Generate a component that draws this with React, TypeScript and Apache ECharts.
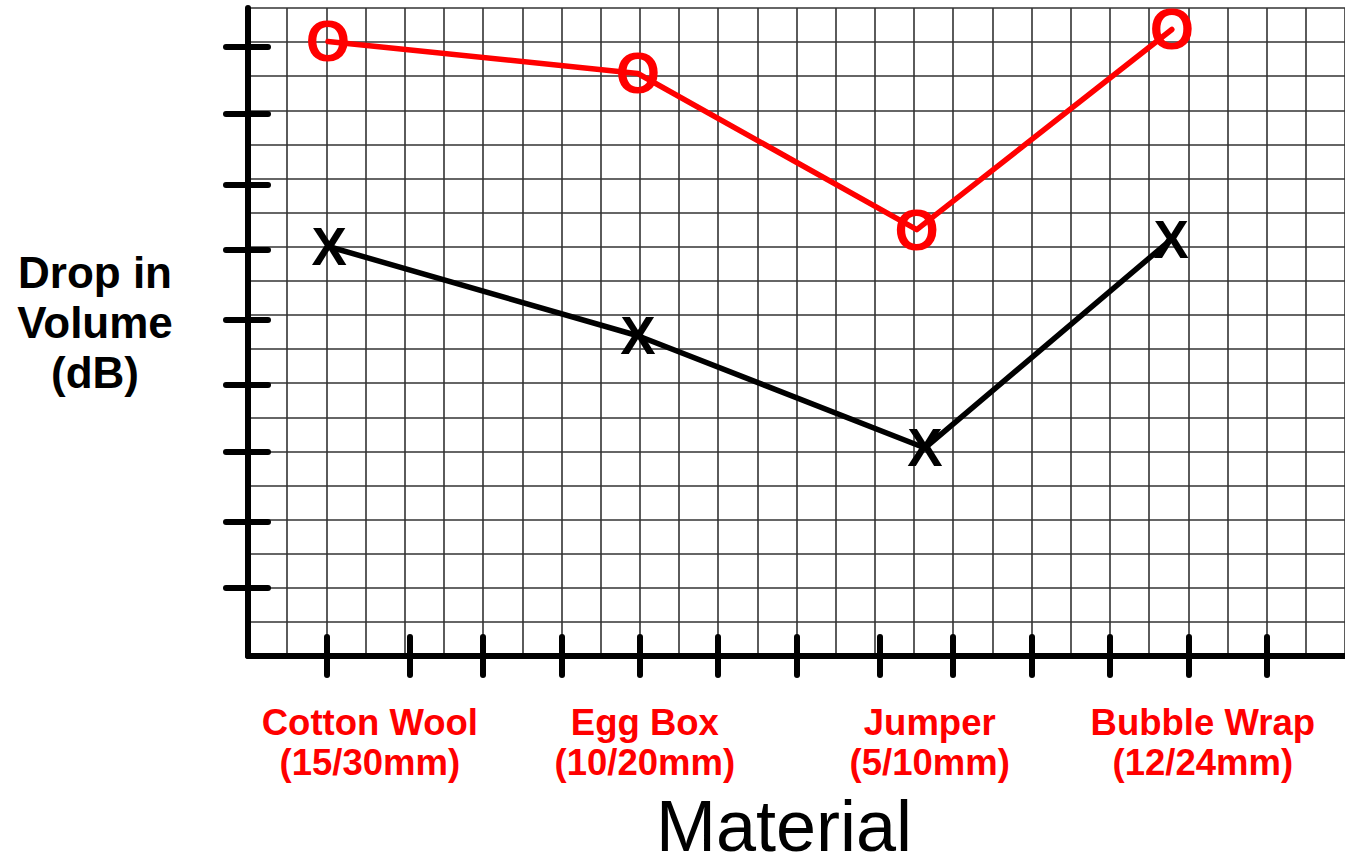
import React, { useEffect, useRef } from "react";
import * as echarts from "echarts";

// Category labels and where they sit on the x scale (grid units)
const categories = ["Cotton Wool\n(15/30mm)", "Egg Box\n(10/20mm)", "Jumper\n(5/10mm)", "Bubble Wrap\n(12/24mm)"];
const labelX = [3.11, 10.13, 17.4, 24.37];

// Red "O" series
const redX = [2.04, 9.95, 17.07, 23.58];
const redY = [18.02, 17.08, 12.5, 18.37];

// Black "X" series
const blackX = [2.07, 9.95, 17.28, 23.56];
const blackY = [12.0, 9.39, 6.1, 12.21];

// Hand-drawn tick positions
const xTicks = [2, 4.13, 6, 8, 10, 12, 14, 16.13, 18, 20, 22, 24, 26];
const yTicks = [1.99, 3.93, 5.99, 7.95, 9.86, 11.92, 13.82, 15.9, 17.87];

const xTitle = "Material";
const yTitle = "Drop in\nVolume\n(dB)";

const X_MAX = 28;
const Y_MAX = 19;
const FONT = "'Liberation Sans', Arial, Helvetica, sans-serif";

export default function App() {
  const ref = useRef<HTMLDivElement>(null);

  useEffect(() => {
    document.body.style.margin = "0";
    if (!ref.current) return;
    const chart = echarts.init(ref.current, null, { renderer: "svg" });

    const thick = { show: true, onZero: false, lineStyle: { color: "#000", width: 6, cap: "round" as const } };

    const baseX = { type: "value" as const, min: 0, max: X_MAX, interval: 1, position: "bottom" as const, gridIndex: 0 };
    const baseY = { type: "value" as const, min: 0, max: Y_MAX, interval: 1, position: "left" as const, gridIndex: 0 };

    const markerLabel = (text: string, color: string, size: number) => ({
      show: true,
      position: "inside",
      formatter: text,
      color,
      opacity: 1,
      fontFamily: FONT,
      fontWeight: "bold",
      fontSize: size,
      lineHeight: 42,
    });

    const option: any = {
      animation: false,
      backgroundColor: "#fff",
      grid: { left: 248, top: 8, right: 0, bottom: 202, containLabel: false, outerBoundsMode: "none" },
      graphic: [
        {
          type: "text",
          x: 95,
          y: 322,
          style: {
            text: yTitle,
            fill: "#000",
            font: `bold 44px ${FONT}`,
            lineHeight: 50,
            align: "center",
            verticalAlign: "middle",
          },
        },
      ],
      xAxis: [
        {
          ...baseX,
          axisLine: { show: false },
          axisTick: { show: false },
          axisLabel: { show: false },
          splitLine: { show: true, lineStyle: { color: "#333", width: 1.6 } },
        },
        {
          ...baseX,
          axisLine: thick,
          axisTick: { show: true, inside: true, length: 19, customValues: xTicks, lineStyle: { color: "#000", width: 6, cap: "round" } },
          axisLabel: { show: false },
          splitLine: { show: false },
        },
        {
          ...baseX,
          axisLine: { show: false },
          axisTick: { show: true, inside: false, length: 19, customValues: xTicks, lineStyle: { color: "#000", width: 6, cap: "round" } },
          axisLabel: {
            show: true,
            customValues: labelX,
            margin: 46,
            color: "#ff0000",
            fontFamily: FONT,
            fontWeight: "bold",
            fontSize: 36.5,
            lineHeight: 40,
            align: "center",
            formatter: (v: number) => {
              let best = 0;
              labelX.forEach((lx, i) => {
                if (Math.abs(lx - v) < Math.abs(labelX[best] - v)) best = i;
              });
              return categories[best];
            },
          },
          splitLine: { show: false },
          name: xTitle,
          nameLocation: "middle",
          nameGap: 140,
          nameTextStyle: { color: "#000", fontFamily: FONT, fontSize: 72, lineHeight: 60, fontWeight: "normal", padding: [0, 25, 0, 0] },
        },
      ],
      yAxis: [
        {
          ...baseY,
          axisLine: { show: false },
          axisTick: { show: false },
          axisLabel: { show: false },
          splitLine: { show: true, lineStyle: { color: "#333", width: 1.6 } },
        },
        {
          ...baseY,
          axisLine: thick,
          axisTick: { show: true, inside: true, length: 20, customValues: yTicks, lineStyle: { color: "#000", width: 6, cap: "round" } },
          axisLabel: { show: false },
          splitLine: { show: false },
        },
        {
          ...baseY,
          axisLine: { show: false },
          axisTick: { show: true, inside: false, length: 22, customValues: yTicks, lineStyle: { color: "#000", width: 6, cap: "round" } },
          axisLabel: { show: false },
          splitLine: { show: false },
        },
      ],
      series: [
        {
          type: "line",
          xAxisIndex: 0,
          yAxisIndex: 0,
          data: redX.map((x, i) => [x, redY[i]]),
          symbol: "none",
          lineStyle: { color: "#ff0000", width: 5.5, cap: "round", join: "round" },
          z: 3,
        },
        {
          type: "line",
          xAxisIndex: 0,
          yAxisIndex: 0,
          data: blackX.map((x, i) => [x, blackY[i]]),
          symbol: "none",
          lineStyle: { color: "#000", width: 5.5, cap: "round", join: "round" },
          z: 3,
        },
        {
          type: "scatter",
          xAxisIndex: 0,
          yAxisIndex: 0,
          data: redX.map((x, i) => [x, redY[i]]),
          symbolSize: 1,
          itemStyle: { color: "rgba(0,0,0,0)", opacity: 1 },
          label: markerLabel("O", "#ff0000", 57),
          emphasis: { disabled: true },
          z: 4,
        },
        {
          type: "scatter",
          xAxisIndex: 0,
          yAxisIndex: 0,
          data: blackX.map((x, i) => [x, blackY[i]]),
          symbolSize: 1,
          itemStyle: { color: "rgba(0,0,0,0)", opacity: 1 },
          label: markerLabel("X", "#000", 53),
          emphasis: { disabled: true },
          z: 4,
        },
      ],
    };

    chart.setOption(option);
    return () => chart.dispose();
  }, []);

  return <div ref={ref} style={{ width: 1345, height: 858 }} />;
}
